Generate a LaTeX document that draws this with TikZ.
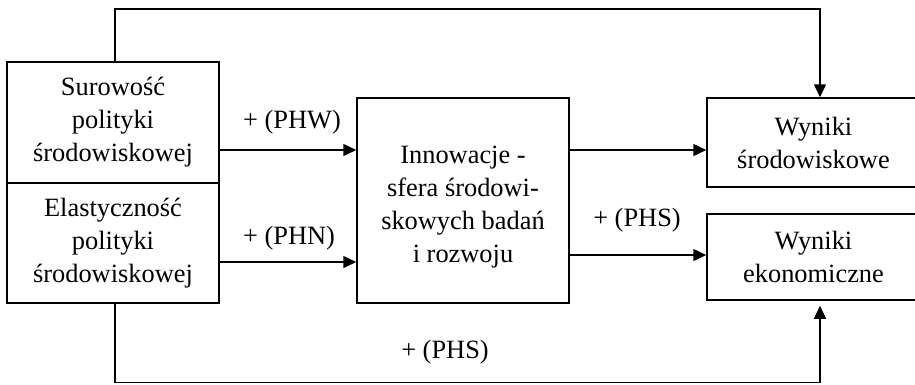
\documentclass[tikz,border=0pt]{standalone}
\usepackage{fontspec}
\setmainfont{Liberation Serif}
\usetikzlibrary{arrows.meta}
\begin{document}
\begin{tikzpicture}[x=1pt,y=-1pt,
  every node/.style={font=\fontsize{26.4}{33}\selectfont},
  box/.style={draw,line width=1.5pt,inner sep=0pt,align=center},
  arr/.style={line width=1.5pt,-{Triangle[length=13pt,width=12pt]}},
  ln/.style={line width=1.5pt},
  lbl/.style={inner sep=0pt}]
\useasboundingbox (0,0) rectangle (915,384);
\clip (0,0) rectangle (915,384);
\node[box,minimum width=212pt,minimum height=121pt] (sur) at (113,122.5)
  {Surowość\\polityki\\środowiskowej};
\node[box,minimum width=212pt,minimum height=120pt] (ela) at (113,243)
  {Elastyczność\\polityki\\środowiskowej};
\node[box,minimum width=212pt,minimum height=205pt] (inn) at (463,200.5) {};
\node[align=center,inner sep=0pt] (inntxt) at (463,207)
  {Innowacje -\\sfera środowi-\\skowych badań\\i rozwoju};
\node[box,minimum width=213pt,minimum height=89pt] (wse) at (813.5,142.5)
  {Wyniki\\środowiskowe};
\node[box,minimum width=213pt,minimum height=86pt] (wek) at (813.5,257)
  {Wyniki\\ekonomiczne};
\coordinate (h1) at (0,150);
\coordinate (h2) at (0,262);
\coordinate (h3) at (0,255);
\coordinate (t1) at (115,9);
\coordinate (t2) at (820,9);
\coordinate (b1) at (115,382.5);
\coordinate (b2) at (820,382.5);
\draw[arr] (sur.east |- h1) -- (inn.west |- h1);
\draw[arr] (ela.east |- h2) -- (inn.west |- h2);
\draw[arr] (inn.east |- h1) -- (wse.west |- h1);
\draw[arr] (inn.east |- h3) -- (wek.west |- h3);
\draw[arr] (t1 |- sur.north) -- (t1) -- (t2) -- (t2 |- wse.north);
\draw[arr,shorten >=5pt] (b1 |- ela.south) -- (b1) -- (b2) -- (b2 |- wek.south);
\node[lbl] (l1) at (292,122) {+ (PHW)};
\node[lbl] (l2) at (289,238) {+ (PHN)};
\node[lbl] (l3) at (637,220) {+ (PHS)};
\node[lbl] (l4) at (445,352) {+ (PHS)};
\end{tikzpicture}
\end{document}
